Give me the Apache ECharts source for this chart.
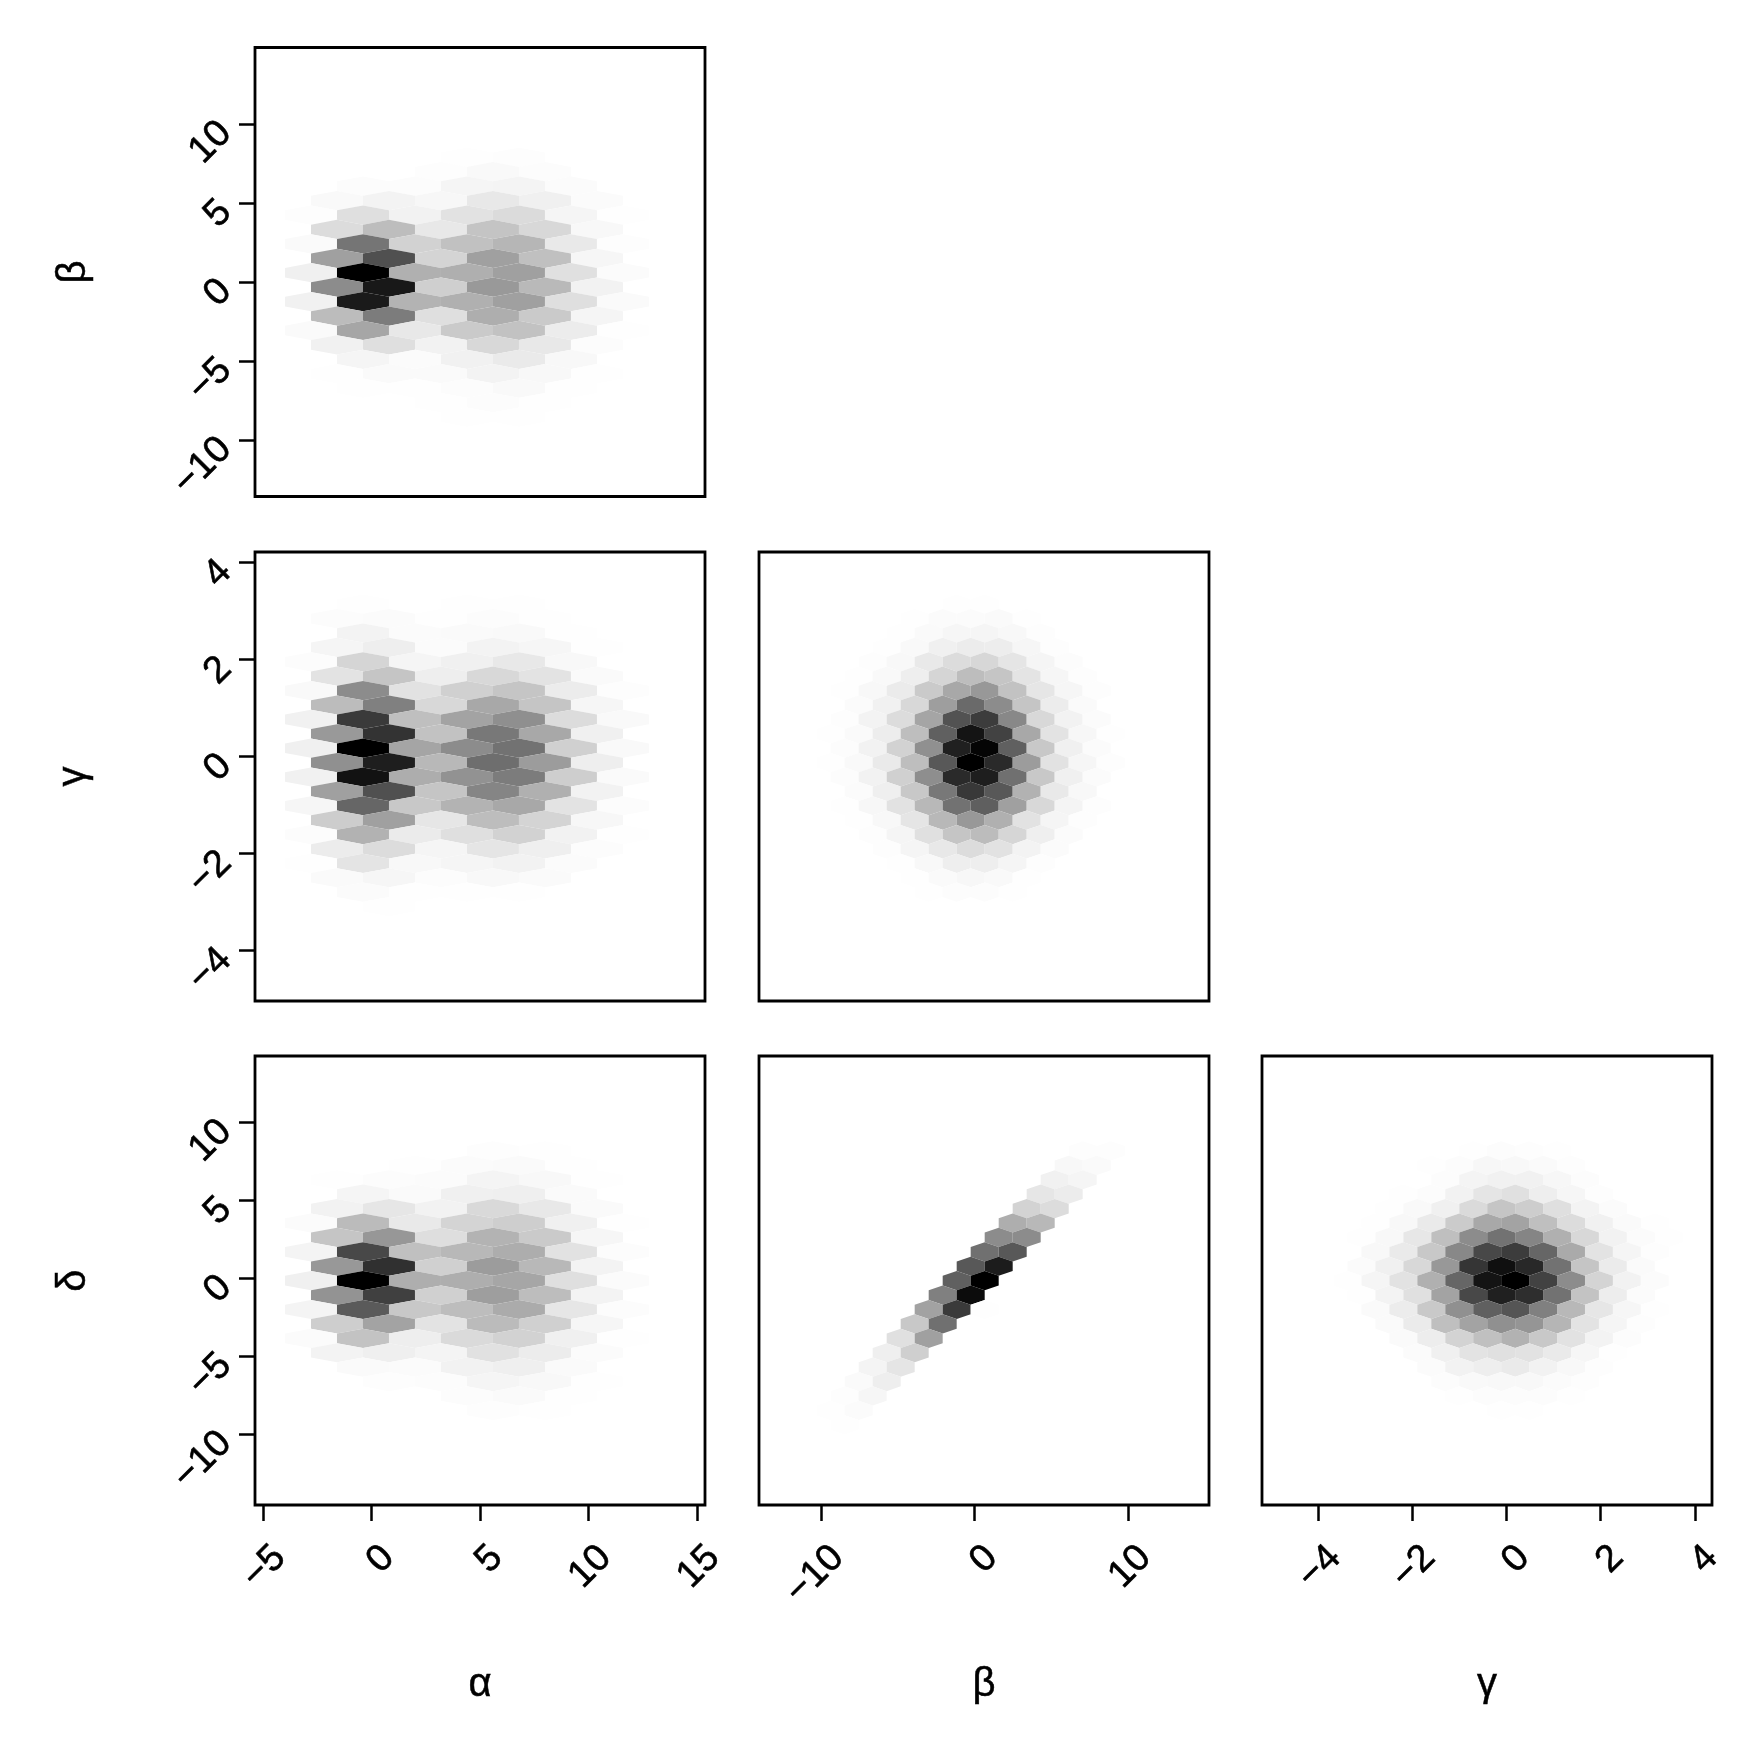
<!DOCTYPE html>
<html>
<head>
<meta charset="utf-8">
<style>html,body{margin:0;padding:0;background:#fff}#c{width:1761px;height:1749px}</style>
<script src="https://cdn.jsdelivr.net/npm/echarts@6/dist/echarts.min.js"></script>
</head>
<body>
<div id="c"></div>
<script>
// Axis names and tick labels
const alphaTicks = [-5, 0, 5, 10, 15];
const betaXTicks = [-10, 0, 10];
const gammaTicks = [-4, -2, 0, 2, 4];
const betaYTicks = [-10, -5, 0, 5, 10];
const deltaTicks = [-10, -5, 0, 5, 10];

// Axis ranges in data units
const alphaRange = [-5.359, 15.378];
const betaXRange = [-14.02, 15.26];
const gammaXRange = [-5.19, 4.364];
const betaYRange = [-13.58, 14.84];
const gammaYRange = [-5.04, 4.218];
const deltaYRange = [-14.56, 14.25];

// Hexbin lattices in data units: first column centre, half-column step
const alphaBins = [-2.779, 1.198];
const betaBins = [-9.356, 0.911];
const gammaBins = [-3.375, 0.2966];
// first row centre, row step
const betaRows = [7.89, 0.9133];
const gammaRows = [3.142, 0.2969];
const deltaRows = [8.16, 0.925];

// Relative density of each hex (0-255), top row to bottom row, left to right
const alphaBeta = [
  [0,0,0,1,2,0,0],
  [0,0,2,6,3,0,0],
  [0,3,3,10,11,4,0],
  [6,12,8,23,15,4,0],
  [2,32,13,29,36,10,1],
  [35,66,23,59,39,7,0],
  [5,138,45,62,73,22,2],
  [95,175,43,95,63,9,0],
  [15,255,79,80,95,31,4],
  [115,231,48,102,70,13,0],
  [14,229,76,79,95,32,5],
  [67,131,32,81,53,10,0],
  [5,89,23,53,61,19,1],
  [14,32,13,39,23,3,0],
  [0,10,4,14,21,7,0],
  [1,5,5,12,7,1,0],
  [0,1,1,3,6,1,0],
  [0,0,1,3,1,0,0],
  [0,0,0,1,1,0,0]
];
const alphaGamma = [
  [0,1,0,1,1,0,0],
  [3,4,1,3,1,0,0],
  [0,12,4,5,6,1,0],
  [10,17,4,12,9,1,0],
  [3,42,10,15,23,7,0],
  [28,58,17,39,28,5,0],
  [6,115,29,47,58,19,2],
  [67,127,39,87,58,9,0],
  [14,197,64,92,112,35,6],
  [102,204,61,135,87,15,0],
  [15,255,90,115,141,47,6],
  [111,225,71,145,99,17,0],
  [14,237,82,109,131,49,5],
  [95,175,58,122,79,13,0],
  [9,153,55,76,87,28,3],
  [50,95,25,66,43,8,0],
  [3,77,20,32,45,13,1],
  [19,35,10,26,16,3,0],
  [1,27,7,10,13,4,0],
  [5,9,3,7,5,0,0],
  [0,4,1,1,1,0,0],
  [0,1,0,0,0,0,0]
];
const alphaDelta = [
  [0,0,0,2,1,0,0],
  [0,0,1,4,5,1,0],
  [1,3,4,11,7,1,0],
  [0,10,5,15,16,5,0],
  [13,25,13,38,23,5,0],
  [4,68,22,43,49,15,1],
  [58,104,33,76,53,9,0],
  [11,183,63,71,82,29,3],
  [103,207,47,99,71,12,0],
  [15,255,81,81,89,32,4],
  [108,191,47,97,66,12,0],
  [11,165,55,66,84,25,3],
  [49,92,28,68,47,9,0],
  [4,60,17,37,45,15,1],
  [12,16,11,30,19,4,0],
  [0,5,4,13,16,5,0],
  [0,2,3,10,7,1,0],
  [0,0,0,3,5,1,0],
  [0,0,0,2,1,0,0]
];
const betaGamma = [
  [0,0,0,0,1,1,0,0,0,0],
  [0,0,0,1,4,4,5,1,0,0,0],
  [0,0,1,5,9,10,7,2,0,0],
  [0,0,1,6,15,19,18,9,2,0,0],
  [0,2,7,22,35,40,26,10,3,0],
  [0,1,6,17,42,66,58,27,9,2,0],
  [1,7,20,53,87,103,61,25,9,2],
  [0,4,14,39,97,149,115,58,19,5,0],
  [2,12,35,90,173,195,119,39,13,4],
  [1,5,18,65,159,235,189,87,28,8,1],
  [3,13,45,111,223,250,159,55,15,4],
  [1,6,21,65,167,255,213,99,29,9,2],
  [3,13,47,113,213,225,143,55,15,4],
  [0,4,16,55,135,199,167,77,22,7,0],
  [1,8,29,71,141,160,95,39,11,2],
  [0,1,7,26,71,103,79,29,10,2,0],
  [0,2,10,31,58,67,41,16,4,0],
  [0,0,2,10,23,35,29,12,4,0,0],
  [0,0,1,7,17,17,10,2,0,0],
  [0,0,0,1,5,8,6,1,0,0,0],
  [0,0,0,1,3,3,1,0,0,0]
];
const betaDelta = [
  [0,0,0,0,0,0,0,0,0,2,2],
  [0,0,0,0,0,0,0,0,7,5],
  [0,0,0,0,0,0,0,0,14,10,0],
  [0,0,0,0,0,0,0,25,19,0],
  [0,0,0,0,0,0,0,44,35,0,0],
  [0,0,0,0,0,0,81,71,0,0],
  [0,0,0,0,0,0,115,115,0,0,0],
  [0,0,0,0,0,143,167,0,0,0],
  [0,0,0,0,0,167,227,0,0,0,0],
  [0,0,0,0,159,255,0,0,0,0],
  [0,0,0,0,127,243,0,0,0,0,0],
  [0,0,0,93,197,1,0,0,0,0],
  [0,0,0,55,143,0,0,0,0,0,0],
  [0,0,31,95,0,0,0,0,0,0],
  [0,0,16,48,0,0,0,0,0,0,0],
  [0,11,26,0,0,0,0,0,0,0],
  [0,5,17,0,0,0,0,0,0,0,0],
  [2,9,0,0,0,0,0,0,0,0],
  [1,4,0,0,0,0,0,0,0,0,0],
  [1,0,0,0,0,0,0,0,0,0]
];
const gammaDelta = [
  [0,0,0,0,1,3,2,1,0,0,0,0],
  [0,0,0,1,3,8,7,5,2,0,0,0,0],
  [0,0,0,3,11,14,14,8,3,0,0,0],
  [0,0,1,3,13,26,31,17,9,2,0,0,0],
  [0,1,6,15,37,58,50,32,12,4,0,0],
  [0,1,7,21,52,87,92,64,35,14,5,1,0],
  [1,7,24,64,115,141,122,79,39,13,4,1],
  [0,7,21,55,119,183,195,153,85,28,10,2,0],
  [4,15,39,103,202,239,215,141,58,20,5,0],
  [1,10,29,79,153,235,255,189,115,43,13,4,0],
  [1,12,31,92,183,223,209,141,60,18,4,0],
  [0,5,19,54,111,159,170,127,71,25,9,1,0],
  [0,5,20,64,92,111,106,74,28,10,2,0],
  [0,0,5,18,44,63,77,55,29,12,3,0,0],
  [0,0,4,15,28,31,29,21,9,1,0,0],
  [0,0,0,4,13,17,21,13,7,2,0,0,0],
  [0,0,0,3,6,7,7,4,2,0,0,0],
  [0,0,0,0,1,3,3,3,1,0,0,0,0],
  [0,0,0,0,0,1,1,0,0,0,0,0]
];

const FONT = 'Liberation Sans';
const TICK_SIZE = 38, NAME_SIZE = 40;
const colLefts = [255, 759, 1262], rowTops = [47.5, 552, 1056];
const PANEL_W = 450, PANEL_H = 449;

const xDefs = [
  {name:'α', range:alphaRange, ticks:alphaTicks, bins:alphaBins},
  {name:'β', range:betaXRange, ticks:betaXTicks, bins:betaBins},
  {name:'γ', range:gammaXRange, ticks:gammaTicks, bins:gammaBins}
];
const yDefs = [
  {name:'β', range:betaYRange, ticks:betaYTicks, bins:betaRows},
  {name:'γ', range:gammaYRange, ticks:gammaTicks, bins:gammaRows},
  {name:'δ', range:deltaYRange, ticks:deltaTicks, bins:deltaRows}
];
// col, row, density rows, whether the first row sits half a column right
const panels = [
  {col:0,row:0,cells:alphaBeta,shift:0},
  {col:0,row:1,cells:alphaGamma,shift:0},
  {col:1,row:1,cells:betaGamma,shift:1},
  {col:0,row:2,cells:alphaDelta,shift:1},
  {col:1,row:2,cells:betaDelta,shift:0},
  {col:2,row:2,cells:gammaDelta,shift:1}
];

const fmt = v => String(v).replace('-', '\u2212');
const grid = [], xAxis = [], yAxis = [], series = [];

panels.forEach((p, i) => {
  const xd = xDefs[p.col], yd = yDefs[p.row];
  grid.push({show:true, left:colLefts[p.col], top:rowTops[p.row], width:PANEL_W, height:PANEL_H,
    borderColor:'#000', borderWidth:2.8, backgroundColor:'#fff'});
  xAxis.push({
    type:'value', gridIndex:i, min:xd.range[0], max:xd.range[1], show:p.row===2,
    splitLine:{show:false}, axisLine:{show:false, onZero:false},
    axisTick:{show:true, customValues:xd.ticks, length:16, lineStyle:{color:'#000', width:2.5}},
    axisLabel:{show:true, customValues:xd.ticks, formatter:fmt, rotate:45, align:'right', verticalAlign:'top',
      lineHeight:48, margin:30, fontFamily:FONT, fontSize:TICK_SIZE, color:'#000',
      textBorderColor:'#000', textBorderWidth:0.6},
    name:xd.name, nameLocation:'middle', nameGap:160,
    nameTextStyle:{fontFamily:FONT, fontSize:NAME_SIZE, color:'#000', textBorderColor:'#000', textBorderWidth:0.5}
  });
  yAxis.push({
    type:'value', gridIndex:i, min:yd.range[0], max:yd.range[1], show:p.col===0,
    splitLine:{show:false}, axisLine:{show:false, onZero:false},
    axisTick:{show:true, customValues:yd.ticks, length:16, lineStyle:{color:'#000', width:2.5}},
    axisLabel:{show:true, customValues:yd.ticks, formatter:fmt, rotate:45, align:'right', verticalAlign:'top',
      lineHeight:10, margin:33, fontFamily:FONT, fontSize:TICK_SIZE, color:'#000',
      textBorderColor:'#000', textBorderWidth:0.6},
    name:yd.name, nameLocation:'middle', nameGap:161, nameRotate:90,
    nameTextStyle:{fontFamily:FONT, fontSize:NAME_SIZE, color:'#000', textBorderColor:'#000', textBorderWidth:0.5}
  });
  const [x0, hx] = xd.bins, [y0, dy] = yd.bins;
  const data = [];
  p.cells.forEach((rowVals, r) => {
    const off = (r + p.shift) % 2;
    rowVals.forEach((d, j) => {
      if (d > 0) data.push([x0 + (2 * j + off) * hx, y0 - r * dy, d]);
    });
  });
  series.push({
    type:'custom', xAxisIndex:i, yAxisIndex:i, silent:true, animation:false, clip:true,
    encode:{x:0, y:1}, data,
    renderItem(params, api) {
      const cx = api.value(0), cy = api.value(1), g = 255 - api.value(2);
      const pts = [[0, 2/3], [1, 1/3], [1, -1/3], [0, -2/3], [-1, -1/3], [-1, 1/3]]
        .map(v => api.coord([cx + v[0] * hx, cy + v[1] * dy]));
      return {type:'polygon', shape:{points:pts}, style:{fill:`rgb(${g},${g},${g})`, stroke:null}};
    }
  });
});

const chart = echarts.init(document.getElementById('c'), null, {renderer:'canvas', width:1761, height:1749});
chart.setOption({backgroundColor:'#fff', animation:false, tooltip:{show:false}, grid, xAxis, yAxis, series});
</script>
</body>
</html>
